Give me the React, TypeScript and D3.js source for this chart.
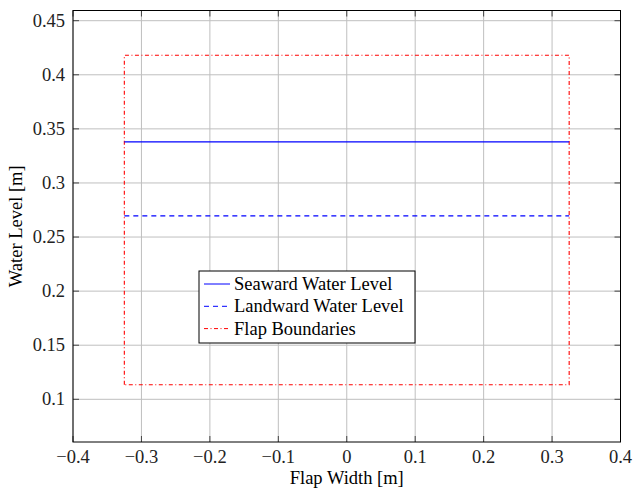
import React from "react";
import * as d3 from "d3";

const xTicks = [-0.4, -0.3, -0.2, -0.1, 0, 0.1, 0.2, 0.3, 0.4];
const yTicks = [0.1, 0.15, 0.2, 0.25, 0.3, 0.35, 0.4, 0.45];
const flapX = [-0.325, -0.325, 0.325, 0.325, -0.325];
const flapY = [0.1135, 0.418, 0.418, 0.1135, 0.1135];
const seawardX = [-0.325, 0.325];
const seawardY = [0.338, 0.338];
const landwardX = [-0.325, 0.325];
const landwardY = [0.2695, 0.2695];
const legendLabels = ["Seaward Water Level", "Landward Water Level", "Flap Boundaries"];

const W = 634, H = 495;
const L = 73, R = 620.5, T = 10.5, B = 442;

export default function App() {
  const x = d3.scaleLinear().domain([-0.4, 0.4]).range([L, R]);
  const y = d3.scaleLinear().domain([0.1, 0.45]).range([399.3, 20.7]);
  const line = d3.line<[number, number]>().x(d => x(d[0])).y(d => y(d[1]));
  const zip = (a: number[], b: number[]) => a.map((v, i) => [v, b[i]] as [number, number]);
  const fmt = (v: number) => {
    const s = d3.format("")(+v.toFixed(2));
    return s.replace("-", "\u2212");
  };
  const serif = "Liberation Serif, Times New Roman, serif";
  const styles = [
    { stroke: "#0000ff", dash: "" },
    { stroke: "#0000ff", dash: "5,4" },
    { stroke: "#ff0000", dash: "4,2.5,1,2.5" },
  ];
  const lx = 199, ly = 271, lw = 216, lh = 72;
  return (
    <svg width={W} height={H} style={{ position: "absolute", left: 0, top: 0, background: "#fff", fontFamily: serif }}>
      <rect x={0} y={0} width={W} height={H} fill="#fff" />
      {xTicks.map(t => (
        <line key={"gx" + t} x1={x(t)} x2={x(t)} y1={T} y2={B} stroke="#bfbfbf" strokeWidth={1} />
      ))}
      {yTicks.map(t => (
        <line key={"gy" + t} x1={L} x2={R} y1={y(t)} y2={y(t)} stroke="#bfbfbf" strokeWidth={1} />
      ))}
      {xTicks.map(t => (
        <g key={"tx" + t}>
          <line x1={x(t)} x2={x(t)} y1={B} y2={B - 6} stroke="#444" />
          <line x1={x(t)} x2={x(t)} y1={T} y2={T + 6} stroke="#444" />
          <text x={x(t)} y={463} textAnchor="middle" fontSize={18.5} fill="#222">{fmt(t)}</text>
        </g>
      ))}
      {yTicks.map(t => (
        <g key={"ty" + t}>
          <line x1={L} x2={L + 6} y1={y(t)} y2={y(t)} stroke="#444" />
          <line x1={R} x2={R - 6} y1={y(t)} y2={y(t)} stroke="#444" />
          <text x={65} y={y(t) + 6} textAnchor="end" fontSize={18.5} fill="#222">{fmt(t)}</text>
        </g>
      ))}
      <path d={line(zip(flapX, flapY)) || ""} fill="none" stroke="#ff0000" strokeWidth={1.1} strokeDasharray="4,2.5,1,2.5" />
      <path d={line(zip(seawardX, seawardY)) || ""} fill="none" stroke="#0000ff" strokeWidth={1.2} />
      <path d={line(zip(landwardX, landwardY)) || ""} fill="none" stroke="#0000ff" strokeWidth={1.2} strokeDasharray="5,4" />
      <rect x={L} y={T} width={R - L} height={B - T} fill="none" stroke="#000" strokeWidth={1} />
      <rect x={lx} y={ly} width={lw} height={lh} fill="#fff" stroke="#000" strokeWidth={1} />
      {legendLabels.map((lab, i) => (
        <g key={lab}>
          <line x1={204} x2={230} y1={284 + i * 22.3} y2={284 + i * 22.3} stroke={styles[i].stroke} strokeDasharray={styles[i].dash} />
          <text x={234} y={284 + i * 22.3 + 6} fontSize={18.5} fill="#000">{lab}</text>
        </g>
      ))}
      <text x={(L + R) / 2} y={484} textAnchor="middle" fontSize={18.5} fill="#000">Flap Width [m]</text>
      <text transform={`translate(22, ${(T + B) / 2}) rotate(-90)`} textAnchor="middle" fontSize={18.5} fill="#000">Water Level [m]</text>
    </svg>
  );
}
